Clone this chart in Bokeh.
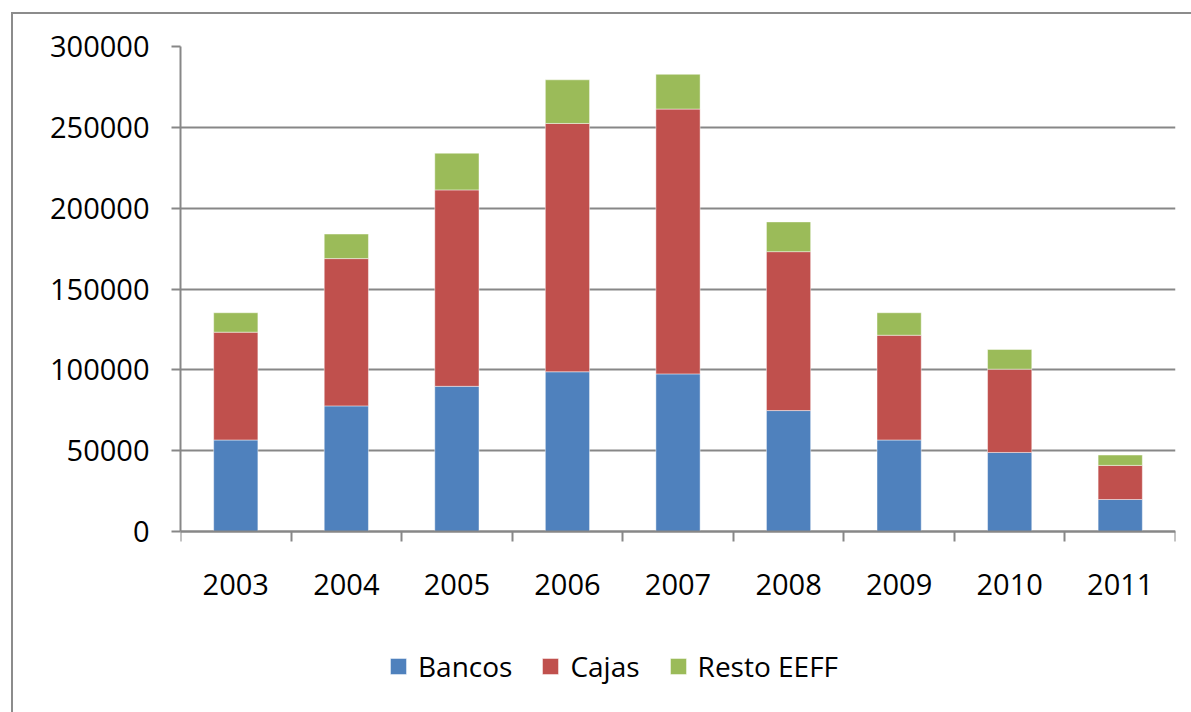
from bokeh.plotting import figure
from bokeh.models import (Range1d, FixedTicker, Legend, LegendItem, InlineStyleSheet,
                          ColumnDataSource, NumeralTickFormatter)
from bokeh.embed import file_html
from bokeh.resources import INLINE

# Yearly totals by type of institution
years = ["2003", "2004", "2005", "2006", "2007", "2008", "2009", "2010", "2011"]
bancos = [56600, 77700, 89800, 98800, 97500, 74800, 56600, 48900, 19800]
cajas = [66700, 91100, 121500, 153600, 163800, 98300, 64800, 51500, 21100]
resto = [12000, 15200, 22700, 27000, 21500, 18400, 13900, 12200, 6400]
series_names = ["Bancos", "Cajas", "Resto EEFF"]
colors = ["#4F81BD", "#C0504D", "#9BBB59"]
y_ticks = [0, 50000, 100000, 150000, 200000, 250000, 300000]

FONT = "Open Sans"
GRAY = "#878787"
Y_MAX = 300000
# value axis occupies 485 px; the frame runs 181 px further down to hold labels and legend
Y_MIN = -Y_MAX * 181 / 485

# bars sit in the middle of each unit-wide category slot
xpos = [i + 0.5 for i in range(len(years))]
source = ColumnDataSource({"x": xpos, "Bancos": bancos, "Cajas": cajas, "Resto EEFF": resto})

# thin frame around the whole chart area (left and top edges show in the window)
frame_css = InlineStyleSheet(css="""
:host::after {
  content: "";
  position: absolute;
  left: 11px; top: 12px; right: 0; bottom: 0;
  border-left: 2px solid #8c8c8c;
  border-top: 2px solid #8c8c8c;
  pointer-events: none;
}
""")

p = figure(width=1191, height=712, output_backend="svg", toolbar_location=None,
           x_range=Range1d(0, len(years)), y_range=Range1d(Y_MIN, Y_MAX),
           min_border_left=180, min_border_right=16, min_border_top=46,
           min_border_bottom=0, stylesheets=[frame_css])
p.outline_line_color = None
p.background_fill_color = "white"
p.border_fill_color = "white"

renderers = p.vbar_stack(series_names, x="x", width=0.4, source=source,
                         fill_color=colors, line_color="white", line_alpha=0.45,
                         line_width=1)

# y axis
p.yaxis.ticker = FixedTicker(ticks=y_ticks)
p.yaxis.bounds = (0, Y_MAX)
p.yaxis.formatter = NumeralTickFormatter(format="0")
p.yaxis.axis_line_color = GRAY
p.yaxis.axis_line_width = 2
p.yaxis.major_tick_line_color = GRAY
p.yaxis.major_tick_line_width = 2
p.yaxis.major_tick_out = 9
p.yaxis.major_tick_in = 0
p.yaxis.minor_tick_line_color = None
p.yaxis.major_label_standoff = 22
p.yaxis.major_label_text_font = FONT
p.yaxis.major_label_text_font_size = "29px"
p.yaxis.major_label_text_color = "black"

# x axis at value 0: labels at slot centres, tick marks at slot boundaries
p.xaxis.fixed_location = 0
p.xaxis.ticker = FixedTicker(ticks=xpos, minor_ticks=list(range(len(years) + 1)))
p.xaxis.major_label_overrides = {xv: yr for xv, yr in zip(xpos, years)}
p.xaxis.axis_line_color = GRAY
p.xaxis.axis_line_width = 2
p.xaxis.major_tick_line_color = None
p.xaxis.major_tick_out = 0
p.xaxis.major_tick_in = 0
p.xaxis.minor_tick_line_color = GRAY
p.xaxis.minor_tick_line_width = 2
p.xaxis.minor_tick_out = 10
p.xaxis.minor_tick_in = 0
p.xaxis.major_label_standoff = 32
p.xaxis.major_label_text_font = FONT
p.xaxis.major_label_text_font_size = "29px"
p.xaxis.major_label_text_color = "black"

p.xgrid.visible = False
p.ygrid.grid_line_color = GRAY
p.ygrid.grid_line_width = 2

legend = Legend(items=[LegendItem(label=n, renderers=[r]) for n, r in zip(series_names, renderers)],
                orientation="horizontal", location=(208, 27),
                glyph_width=20, glyph_height=20, label_standoff=10, spacing=28,
                padding=0, margin=0, border_line_color=None, background_fill_alpha=0,
                label_text_font=FONT, label_text_font_size="28px", label_text_color="black")
p.add_layout(legend, "center")

open("out.html", "w").write(file_html(p, INLINE))
